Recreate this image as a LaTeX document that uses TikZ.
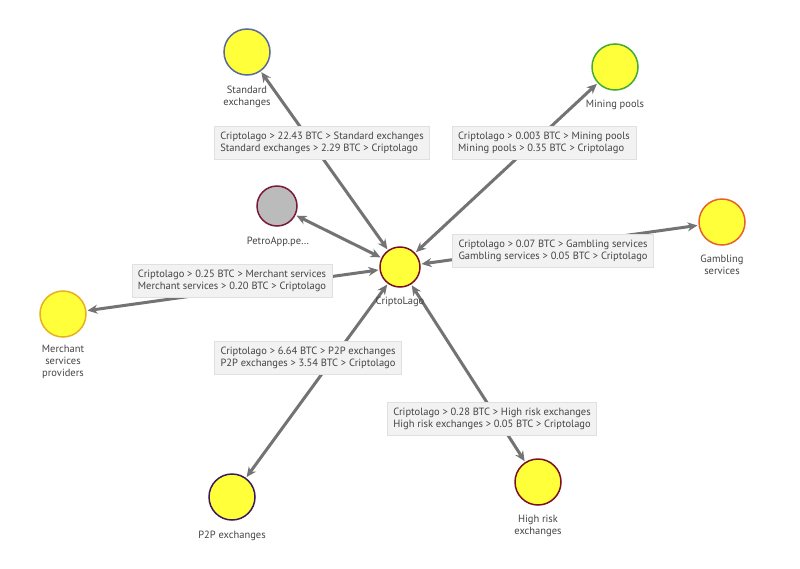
\documentclass[tikz,border=0pt]{standalone}
\usepackage{fontspec}
\setmainfont{PT Sans}
\usetikzlibrary{arrows.meta}
\definecolor{nodeyel}{HTML}{FFFF3A}
\definecolor{edgegray}{HTML}{737373}
\definecolor{txt}{HTML}{444444}
\definecolor{boxfill}{HTML}{F2F2F2}
\definecolor{boxline}{HTML}{E0E0E0}
\definecolor{cmaroon}{HTML}{7A1020}
\definecolor{cblue}{HTML}{5A6A9A}
\definecolor{cgreen}{HTML}{44AA33}
\definecolor{cgray}{HTML}{BBBBBB}
\definecolor{cpetro}{HTML}{7A1A3A}
\definecolor{corange}{HTML}{E8602A}
\definecolor{cgold}{HTML}{E8B020}
\definecolor{cpurple}{HTML}{3A1A5A}
\tikzset{
  ent/.style={circle, minimum size=46pt, inner sep=0pt, fill=nodeyel, line width=1.5pt},
  lbl/.style={text=txt, font=\fontsize{10.5}{12}\selectfont, align=center, inner sep=0pt},
  flow/.style={draw=edgegray, line width=3pt, {Stealth[length=10pt,width=9pt]}-{Stealth[length=10pt,width=9pt]}, shorten <=1pt, shorten >=1pt},
  info/.style={fill=boxfill, draw=boxline, line width=0.6pt, text=txt, font=\fontsize{10.5}{12}\selectfont, align=left, inner xsep=6pt, inner ysep=5.5pt},
}
\begin{document}
\begin{tikzpicture}[x=1pt,y=-1pt]
\useasboundingbox[fill=white] (0,0) rectangle (800,568);
% entity nodes
\node[ent, minimum size=40pt, draw=cmaroon] (c) at (400,267) {};
\node[ent, draw=cblue] (std) at (247,52) {};
\node[ent, draw=cgreen] (mine) at (615,67) {};
\node[ent, minimum size=40pt, fill=cgray, draw=cpetro] (petro) at (277,206) {};
\node[ent, draw=corange] (gamb) at (722,222) {};
\node[ent, draw=cgold] (merch) at (63,314) {};
\node[ent, draw=cpurple] (p2p) at (232,497) {};
\node[ent, draw=cmaroon] (risk) at (538,482) {};
% connectors
\draw[flow] (c) -- (std);
\draw[flow] (c) -- (mine);
\draw[flow] (c) -- (petro);
\draw[flow] (c) -- (gamb);
\draw[flow] (c) -- (merch);
\draw[flow] (c) -- (p2p);
\draw[flow] (c) -- (risk);
% node labels
\node[lbl] (lc) at (400,302) {CriptoLago};
\node[lbl] (lstd) at (247,97) {Standard\\exchanges};
\node[lbl] (lmine) at (615,105) {Mining pools};
\node[lbl] (lpetro) at (278,242) {PetroApp.pe…};
\node[lbl] (lgamb) at (722,265) {Gambling\\services};
\node[lbl] (lmerch) at (63,362) {Merchant\\services\\providers};
\node[lbl] (lp2p) at (232,536) {P2P exchanges};
\node[lbl] (lrisk) at (538,526) {High risk\\exchanges};
% flow info boxes
\node[info] (istd) at (322,143) {Criptolago > 22.43 BTC > Standard exchanges\\Standard exchanges > 2.29 BTC > Criptolago};
\node[info] (imine) at (544,143) {Criptolago > 0.003 BTC > Mining pools\\Mining pools > 0.35 BTC > Criptolago};
\node[info] (igamb) at (553,251) {Criptolago > 0.07 BTC > Gambling services\\Gambling services > 0.05 BTC > Criptolago};
\node[info] (imerch) at (232,281) {Criptolago > 0.25 BTC > Merchant services\\Merchant services > 0.20 BTC > Criptolago};
\node[info] (ip2p) at (308,358) {Criptolago > 6.64 BTC > P2P exchanges\\P2P exchanges > 3.54 BTC > Criptolago};
\node[info] (irisk) at (492,419) {Criptolago > 0.28 BTC > High risk exchanges\\High risk exchanges > 0.05 BTC > Criptolago};
\end{tikzpicture}
\end{document}
